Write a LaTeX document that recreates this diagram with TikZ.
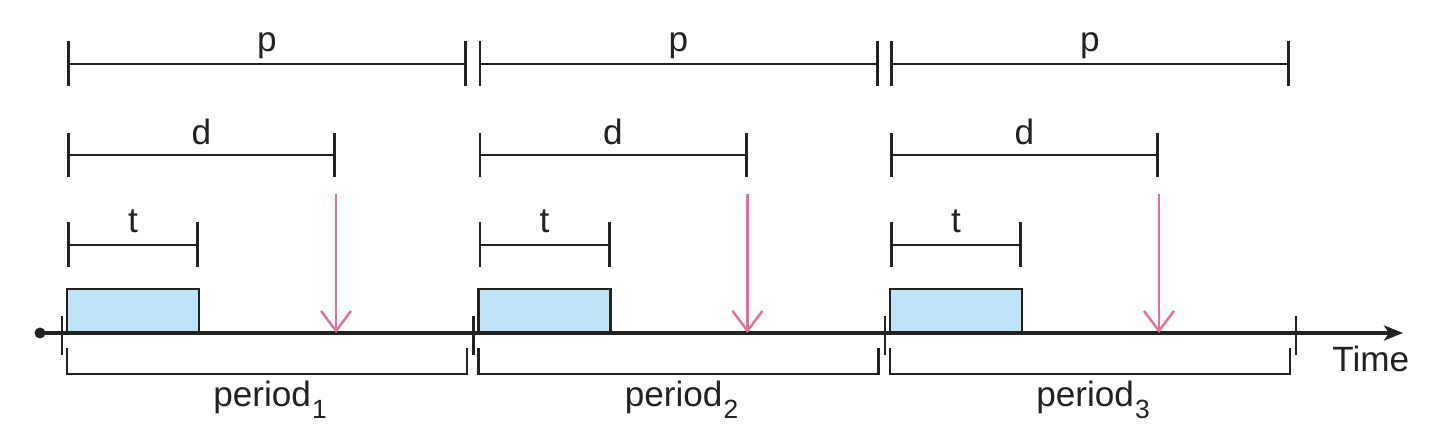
\documentclass[tikz,border=0pt]{standalone}
\usepackage{fontspec}
\setmainfont{Liberation Sans}
\usetikzlibrary{arrows.meta, positioning, calc}
\definecolor{cline}{HTML}{222222}
\definecolor{cblue}{HTML}{BDE4F7}
\definecolor{cpink}{HTML}{DE6FA0}
\newcommand{\lowsub}[1]{\kern0.3pt\raisebox{-3.2pt}{\fontsize{7.5}{8}\selectfont #1}}
\tikzset{
  every picture/.style={font=\fontsize{10}{12}\selectfont, line width=0.75pt},
  span/.style={draw=cline, {Bar[width=#1]}-{Bar[width=#1]}},
  span/.default=4.5mm,
  job/.style={draw=cline, fill=cblue},
  deadline/.style={-{Straight Barb[length=2mm, width=3mm]}, draw=cpink, line width=0.7pt},
  axis/.style={-{Stealth[length=1.9mm, width=1.5mm, inset=0.5mm]}, draw=cline, line width=1.2pt},
  label/.style={anchor=base, inner sep=0pt, text=cline},
}

\begin{document}
\begin{tikzpicture}
  \useasboundingbox (0,0) rectangle (14.4,4.3);
  \foreach \k in {1,2,3} {
    \begin{scope}[xshift={0.67cm+(\k-1)*4.115cm}]
      \draw[span] (0,3.66) -- (4.0,3.66);
      \node[label] (plabel\k) at (2.0,3.78) {p};
      \draw[span=4.4mm] (0,2.75) -- (2.69,2.75);
      \node[label] (dlabel\k) at (1.345,2.85) {d};
      \draw[span] (0,1.85) -- (1.32,1.85);
      \node[label] (tlabel\k) at (0.66,1.97) {t};
      \draw[job] (0,0.97) rectangle (1.32,1.41);
      \draw[cline] (0,0.82) |- (4.0,0.56) -- (4.0,0.82);
      \node[label] (period\k) at (2.03,0.23) {period\lowsub{\k}};
      \draw[cline] (-0.05,0.75) -- (-0.05,1.14);
      \coordinate (rel\k) at (2.69,2.36);
      \coordinate (due\k) at (2.69,0.97);
    \end{scope}
  }
  \draw[cline] (12.96,0.75) -- (12.96,1.14);
  \coordinate (origin) at (0.40,0.97);
  \coordinate (tend) at (14.03,0.97);
  \draw[axis] (origin) -- (tend);
  \fill[cline] (origin) circle (0.055);
  \node[label, anchor=base west] (time) at (13.31,0.58) {Time};
  \foreach \k in {1,2,3}
    \draw[deadline] (rel\k) -- (due\k);
\end{tikzpicture}
\end{document}
